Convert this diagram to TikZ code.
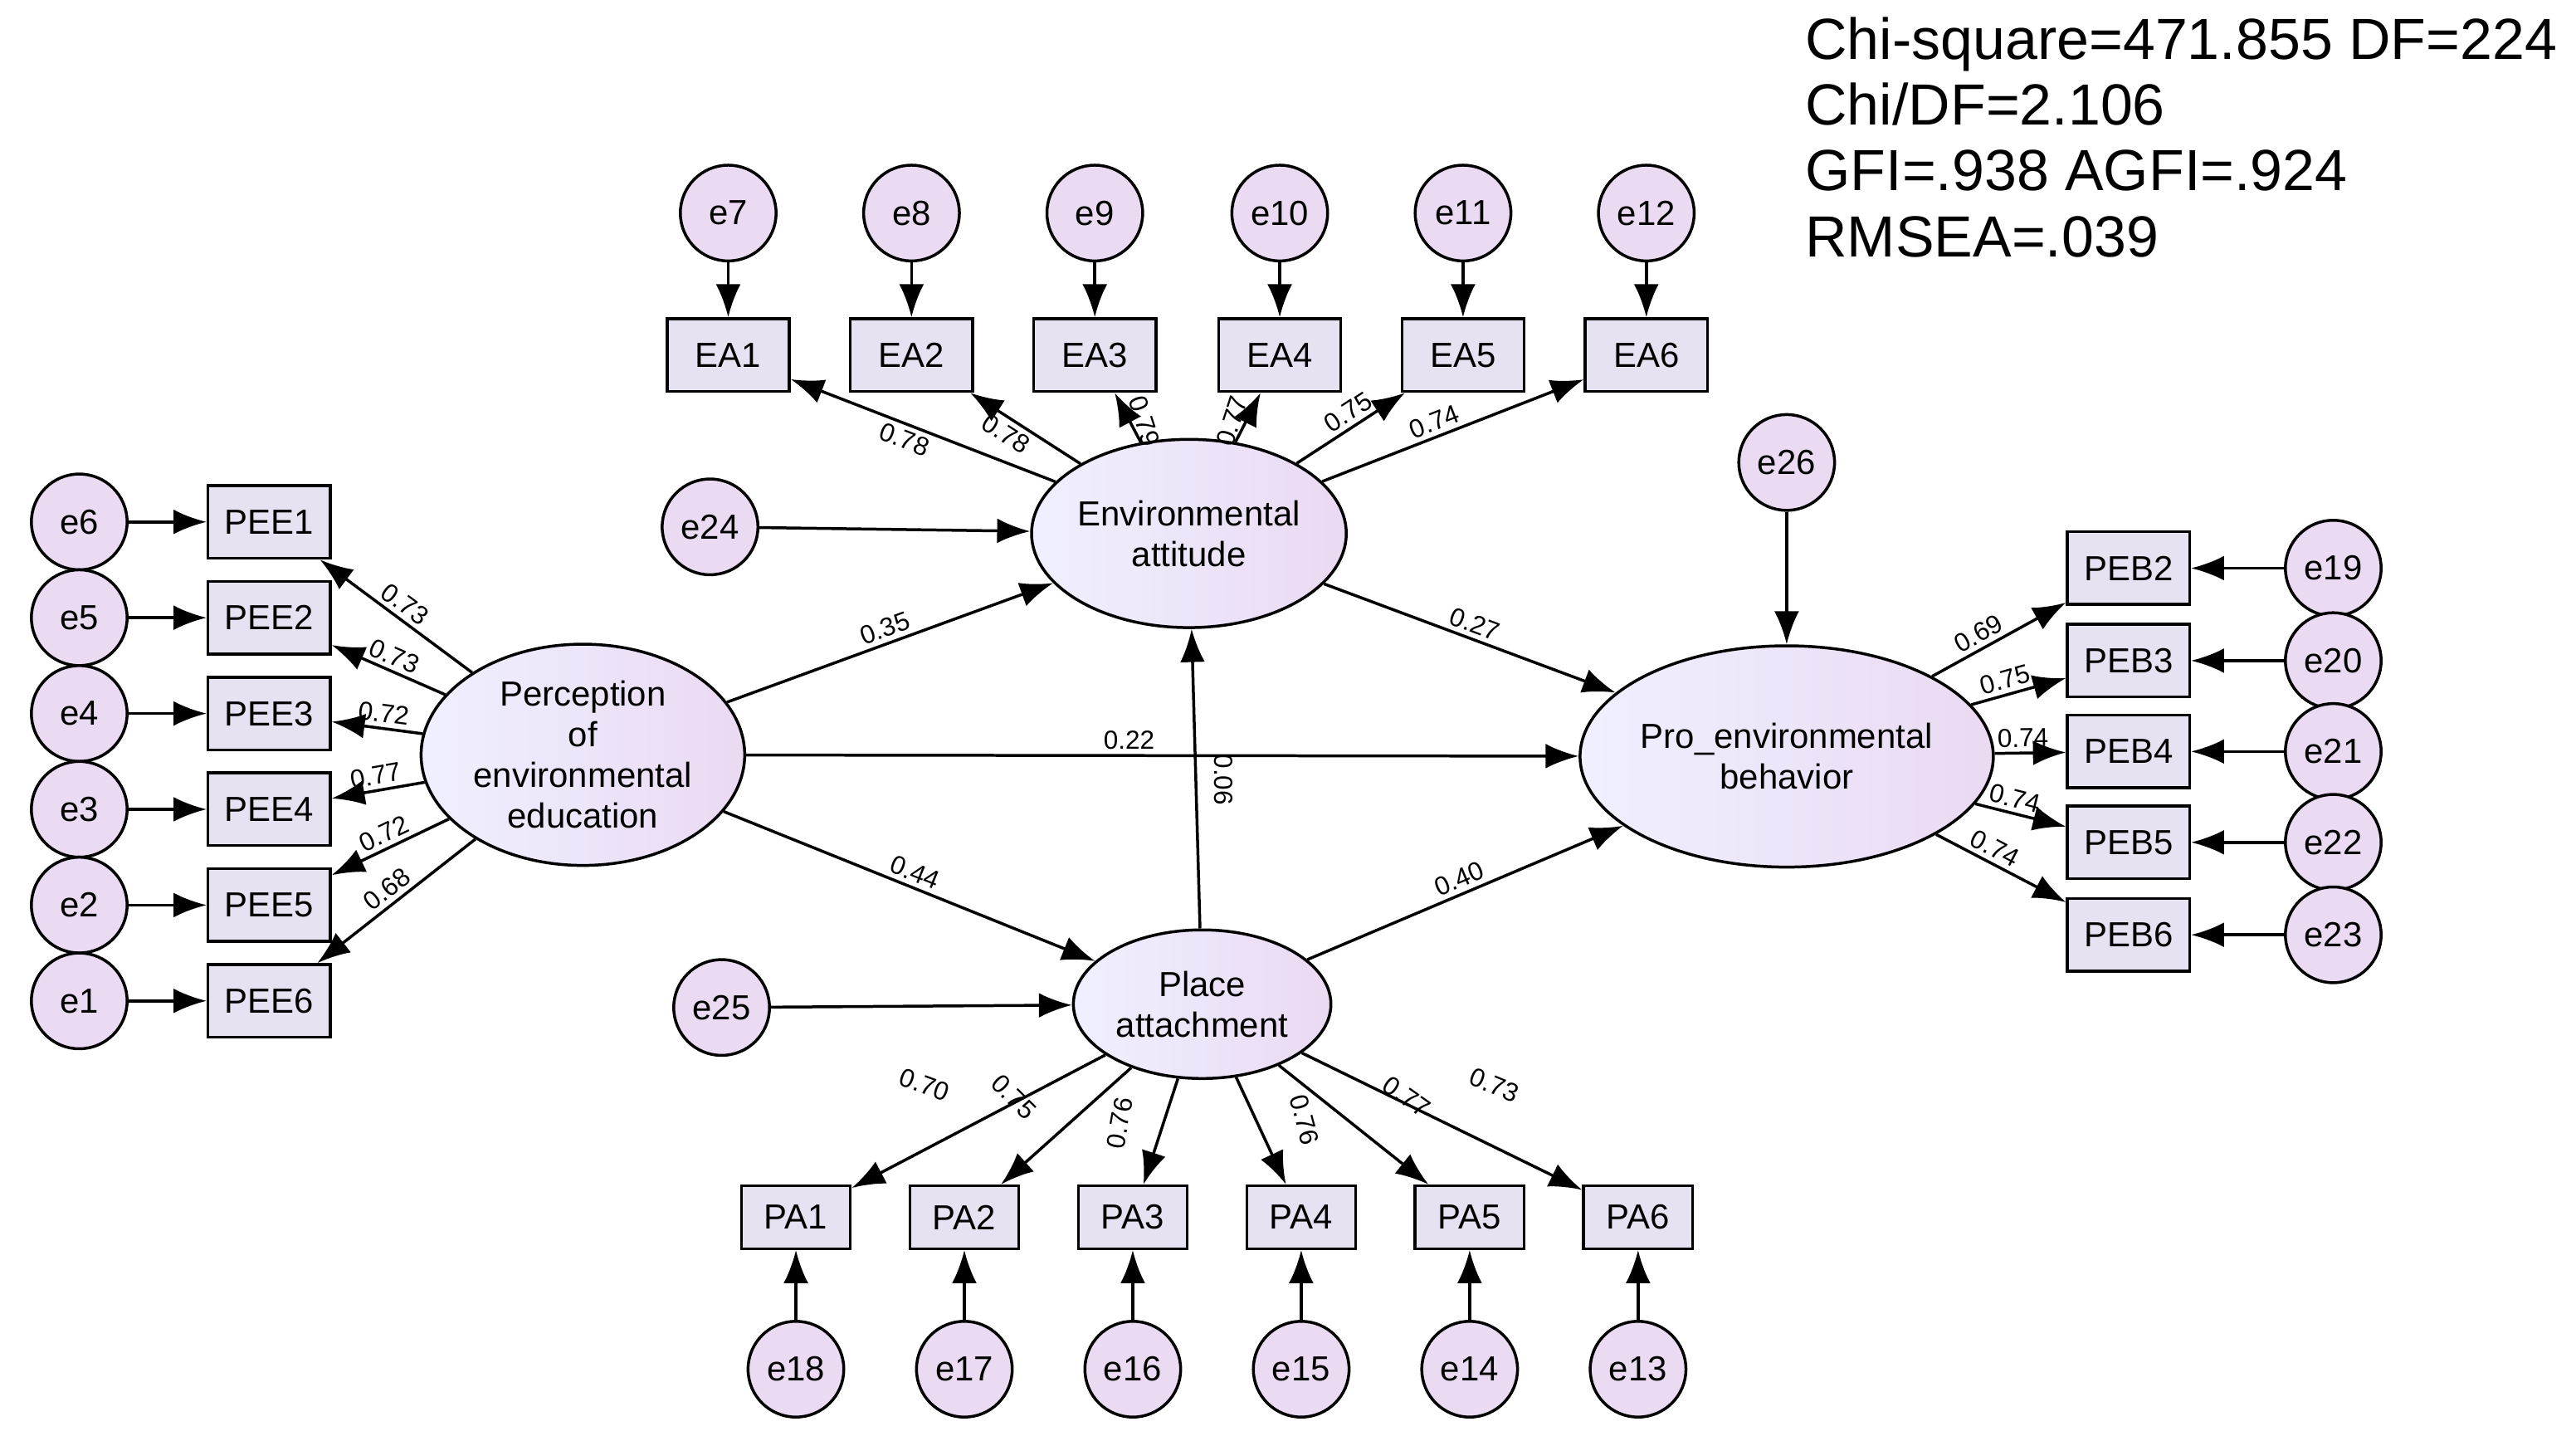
\documentclass[tikz,border=0pt]{standalone}
\usepackage{fontspec}
\setmainfont{Liberation Sans}
\usetikzlibrary{arrows.meta,shapes.geometric}
\definecolor{cfill}{HTML}{EADAF2}
\definecolor{bfill}{HTML}{E6E2F2}
\tikzset{
  err/.style={circle,draw,line width=1pt,fill=cfill,minimum size=1.16cm,inner sep=0pt,font=\fontsize{12}{14}\selectfont},
  box/.style={rectangle,draw,line width=1pt,fill=bfill,minimum width=1.48cm,minimum height=0.88cm,inner sep=0pt,font=\fontsize{12}{14}\selectfont},
  pbox/.style={box,minimum width=1.32cm,minimum height=0.76cm},
  lat/.style={ellipse,draw,line width=1pt,left color=blue!6!white,right color=cfill,align=center,inner sep=0pt,font=\fontsize{12}{14}\selectfont},
  ar/.style={line width=1pt,-{Latex[length=0.4cm,width=0.3cm]}},
  lab/.style={font=\fontsize{9}{10}\selectfont,sloped,inner sep=1.5pt}
}
\begin{document}
\begin{tikzpicture}[x=0.02cm,y=-0.02cm]
\useasboundingbox (0,0) rectangle (1560,872);
\node[anchor=north west,align=left,inner sep=0pt,font=\fontsize{20}{22.7}\selectfont] (stats) at (1093,10)
 {Chi-square=471.855 DF=224\\Chi/DF=2.106\\GFI=.938 AGFI=.924\\RMSEA=.039};
% latent
\node[lat,minimum width=3.92cm,minimum height=2.68cm] (PEE) at (353,457) {Perception\\of\\environmental\\education};
\node[lat,minimum width=3.68cm,minimum height=2.28cm] (EA) at (720,323) {Environmental\\attitude};
\node[lat,minimum width=4.48cm,minimum height=2.68cm] (PEB) at (1082,458) {Pro\_environmental\\behavior};
\node[lat,minimum width=3.12cm,minimum height=1.8cm] (PA) at (728,608) {Place\\attachment};
% PEE
\foreach \i/\e/\y/\l/\p in {1/6/316/0.73/0.5,2/5/374/0.73/0.5,3/4/432/0.72/0.45,4/3/490/0.77/0.5,5/2/548/0.72/0.5,6/1/606/0.68/0.5}{
  \node[err] (e\e) at (48,\y) {e\e};
  \node[box] (PEE\i) at (163,\y) {PEE\i};
  \draw[ar] (e\e) -- (PEE\i);
  \draw[ar] (PEE) -- node[lab,pos=\p,above]{\l} (PEE\i);
}
% EA
\foreach \i/\e/\x in {1/7/441,2/8/552,3/9/663,4/10/775,5/11/886,6/12/997}{
  \node[err] (e\e) at (\x,129) {e\e};
  \node[box] (EA\i) at (\x,215) {EA\i};
  \draw[ar] (e\e) -- (EA\i);
}
\draw[ar] (EA) -- node[lab,pos=0.55,below]{0.78} (EA1);
\draw[ar] (EA) -- node[lab,pos=0.6,below]{0.78} (EA2);
\draw[ar] (EA) -- (EA3);
\node[lab,rotate=-72] (l79) at (693,255) {0.79};
\draw[ar] (EA) -- (EA4);
\node[lab,rotate=72] (l77) at (746,255) {0.77};
\draw[ar] (EA) -- node[lab,pos=0.55,above]{0.75} (EA5);
\draw[ar] (EA) -- node[lab,pos=0.45,above]{0.74} (EA6);
% PEB
\foreach \i/\e/\y/\l in {2/19/344/0.69,3/20/400/0.75,4/21/455/0.74,5/22/510/0.74,6/23/566/0.74}{
  \node[err] (e\e) at (1413,\y) {e\e};
  \node[box] (PEB\i) at (1289,\y) {PEB\i};
  \draw[ar] (e\e) -- (PEB\i);
  \draw[ar] (PEB) -- node[lab,pos=0.4,above]{\l} (PEB\i);
}
% PA
\foreach \i/\e/\x in {1/18/482,2/17/584,3/16/686,4/15/788,5/14/890,6/13/992}{
  \node[err] (e\e) at (\x,829) {e\e};
  \node[pbox] (PA\i) at (\x,737) {PA\i};
  \draw[ar] (e\e) -- (PA\i);
  \draw[ar] (PA) -- (PA\i);
}
\node[lab,rotate=-20] (l70) at (560,657) {0.70};
\node[lab,rotate=-45] (l75) at (614,664) {0.75};
\node[lab,rotate=80] (l76a) at (678,680) {0.76};
\node[lab,rotate=-75] (l76b) at (790,678) {0.76};
\node[lab,rotate=-35] (l77p) at (852,664) {0.77};
\node[lab,rotate=-22] (l73) at (905,657) {0.73};
% disturbances
\node[err] (e24) at (430,319) {e24};
\node[err] (e25) at (437,610) {e25};
\node[err] (e26) at (1082,280) {e26};
\draw[ar] (e24) -- (EA);
\draw[ar] (e25) -- (PA);
\draw[ar] (e26) -- (PEB);
% structural
\draw[ar] (PEE) -- node[lab,pos=0.5,above]{0.35} (EA);
\draw[ar] (PEE) -- node[lab,pos=0.46,above]{0.22} (PEB);
\draw[ar] (PEE) -- node[lab,pos=0.5,above]{0.44} (PA);
\draw[ar] (EA) -- node[lab,pos=0.5,above]{0.27} (PEB);
\draw[ar] (PA) -- node[lab,pos=0.5,above]{0.40} (PEB);
\draw[line width=1pt,{Latex[length=0.4cm,width=0.3cm]}-] (EA) -- (PA);
\node[lab,rotate=-90] (l06) at (741,472) {0.06};
\end{tikzpicture}
\end{document}
